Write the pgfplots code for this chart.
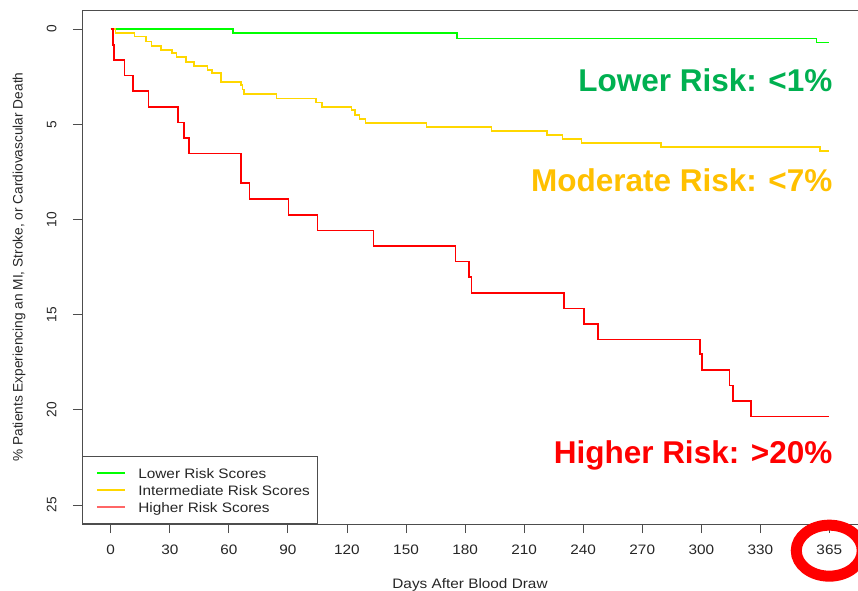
\documentclass[border=0pt]{standalone}
\usepackage{pgfplots}
\pgfplotsset{compat=1.18}
\usepackage{fontspec}
\setmainfont{Liberation Sans}
\newfontfamily\stretchfont{Liberation Sans}[FakeStretch=1.12]
\definecolor{framegray}{HTML}{4D4D4D}
\definecolor{linegreen}{HTML}{00FF00}
\definecolor{lineyellow}{HTML}{FFD700}
\definecolor{linered}{HTML}{FF0000}
\definecolor{txtgreen}{HTML}{00B050}
\definecolor{txtgold}{HTML}{FFC000}
\definecolor{txtred}{HTML}{FF0000}
\definecolor{labelgray}{HTML}{262626}
\pgfplotstableread{
d v
0 0
62.1 0.22
176.0 0.49
358.6 0.70
365 0.70
}\lowtab
\pgfplotstableread{
d v
0 0
2.5 0.22
12.0 0.40
17.9 0.66
20.8 0.88
25.4 1.10
31.0 1.27
33.5 1.48
38.2 1.72
42.4 1.93
49.1 2.15
51.3 2.32
56.0 2.77
66.2 2.94
67.0 3.17
67.8 3.41
84.3 3.64
104.3 3.85
107.2 4.08
122.4 4.25
124.1 4.51
126.3 4.72
129.5 4.92
160.5 5.13
193.5 5.35
221.5 5.57
229.4 5.78
239.2 6.00
279.4 6.20
360.3 6.41
365 6.41
}\midtab
\pgfplotstableread{
d v
0 0
1.0 0.84
1.8 1.63
6.9 2.45
11.2 3.24
19.1 4.08
34.3 4.90
37.2 5.71
39.9 6.53
66.2 8.10
70.4 8.94
90.2 9.77
105.1 10.59
133.4 11.40
175.2 12.22
182.1 13.04
183.2 13.85
230.2 14.67
240.3 15.48
247.4 16.30
299.3 17.08
300.2 17.91
314.4 18.73
316.2 19.54
325.2 20.36
365 20.36
}\hightab
\begin{document}
\begin{tikzpicture}[x=1pt,y=1pt]
\useasboundingbox (0,0) rectangle (858,590);
\begin{axis}[
  at={(82pt,66pt)}, anchor=south west,
  scale only axis, width=776pt, height=514pt,
  xmin=-14.6, xmax=379.6, ymin=-1, ymax=26,
  y dir=reverse,
  clip=false,
  axis line style={framegray, line width=0.9pt},
  tick style={framegray, line width=0.9pt},
  tick align=outside,
  major tick length=9pt,
  xtick={0,30,60,90,120,150,180,210,240,270,300,330,365},
  ytick={0,5,10,15,20,25},
  xtick pos=left, ytick pos=left,
  /pgf/number format/assume math mode=true,
  xticklabel style={font=\stretchfont\fontsize{13.7}{16}\selectfont, text=labelgray, yshift=-8pt},
  yticklabel style={xshift=-13pt, font=\fontsize{13.7}{16}\selectfont, rotate=90, anchor=south, text=labelgray},
  xlabel={Days After Blood Draw},
  ylabel={\% Patients Experiencing an MI, Stroke, or Cardiovascular Death},
  xlabel style={font=\stretchfont\fontsize{13.7}{16}\selectfont, text=labelgray,
    at={(axis description cs:0.5,-0.1245)}, anchor=base},
  ylabel style={font=\fontsize{13.7}{16}\selectfont, text=labelgray,
    at={(axis description cs:-0.0812,0.5)}, anchor=center},
  legend style={at={(axis description cs:0,0)}, anchor=south west,
    draw=framegray, line width=0.9pt, fill=white,
    inner xsep=8pt, inner ysep=10pt, row sep=4pt,
    font=\stretchfont\fontsize{13.7}{16}\selectfont,
    nodes={inner sep=0pt, text height=11.5pt, text depth=1.5pt},
    cells={anchor=west}},
]
\addplot[const plot, linegreen, line width=1.6pt, forget plot] table[x=d, y=v] {\lowtab};
\addplot[const plot, lineyellow, line width=1.6pt, forget plot] table[x=d, y=v] {\midtab};
\addplot[const plot, linered, line width=1.6pt, forget plot] table[x=d, y=v] {\hightab};
\addlegendimage{legend image code/.code={\draw[linegreen, line width=1.3pt] (6pt,0pt) -- (34pt,0pt); \path (0pt,0pt) (47pt,0pt);}}
\addlegendentry{\textcolor{labelgray}{Lower Risk Scores}}
\addlegendimage{legend image code/.code={\draw[lineyellow, line width=1.3pt] (6pt,0pt) -- (34pt,0pt); \path (0pt,0pt) (47pt,0pt);}}
\addlegendentry{\textcolor{labelgray}{Intermediate Risk Scores}}
\addlegendimage{legend image code/.code={\draw[linered!60, line width=1.3pt] (6pt,0pt) -- (34pt,0pt); \path (0pt,0pt) (47pt,0pt);}}
\addlegendentry{\textcolor{labelgray}{Higher Risk Scores}}
\node[anchor=base east, inner sep=0pt, text=txtgreen, font=\bfseries\fontsize{31.5}{36}\selectfont] at (axis cs:366.7,3.29) {Lower Risk: <1\%};
\node[anchor=base east, inner sep=0pt, text=txtgold, font=\bfseries\fontsize{31.5}{36}\selectfont] at (axis cs:366.7,8.54) {Moderate Risk: <7\%};
\node[anchor=base east, inner sep=0pt, text=txtred, font=\bfseries\fontsize{31.5}{36}\selectfont] at (axis cs:366.7,22.81) {Higher Risk: >20\%};
\draw[red, line width=11pt] (axis cs:365,27.4) ellipse [x radius=33pt, y radius=25.5pt];
\end{axis}
\end{tikzpicture}
\end{document}
